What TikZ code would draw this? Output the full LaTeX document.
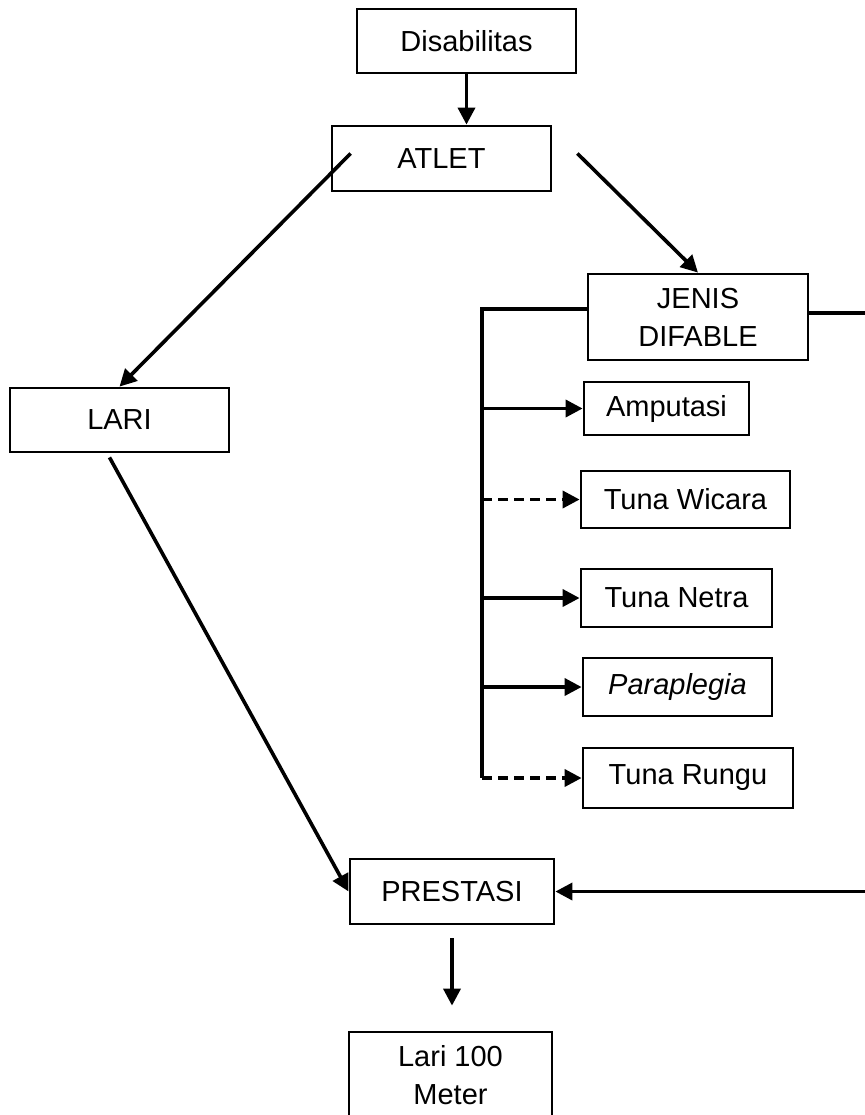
\documentclass[tikz,border=0pt]{standalone}
\usepackage{fontspec}
\setmainfont{Liberation Sans}
\usetikzlibrary{arrows.meta}

\begin{document}
\begin{tikzpicture}[x=0.5pt, y=-0.5pt, every node/.style={draw, line width=1.4pt, inner sep=2pt, align=center, font=\fontsize{14.5}{19}\selectfont}, conn/.style={line width=1.8pt}, arr/.style={conn, -{Triangle[length=8.5pt, width=8.5pt]}}, dsh/.style={arr, dash pattern=on 5pt off 3pt}]
	\useasboundingbox (0,0) rectangle (864,1115);
	\node[minimum width=109.5pt, minimum height=32pt] (dis) at (466.5,41) {Disabilitas};
	\node[minimum width=109.5pt, minimum height=32.5pt] (atlet) at (441.5,158.5) {ATLET};
	\node[minimum width=110pt, minimum height=43pt] (jenis) at (698,317) {JENIS\\DIFABLE};
	\node[minimum width=82.5pt, minimum height=26.5pt] (amp) at (666.5,408.5) {Amputasi};
	\node[minimum width=104.5pt, minimum height=28.5pt] (wic) at (685.5,499.5) {Tuna Wicara};
	\node[minimum width=95.5pt, minimum height=29pt] (net) at (676.5,598) {Tuna Netra};
	\node[minimum width=94.5pt, minimum height=29pt] (para) at (677.5,687) {\textit{Paraplegia}};
	\node[minimum width=105pt, minimum height=30pt] (rung) at (688,778) {Tuna Rungu};
	\node[minimum width=109.5pt, minimum height=32pt] (lari) at (119.5,420) {LARI};
	\node[minimum width=102pt, minimum height=32.5pt] (pres) at (452,891.5) {PRESTASI};
	\node[minimum width=101.5pt, minimum height=43pt] (meter) at (450.5,1075) {Lari 100\\Meter};
	\coordinate (bus) at (482,309);
	\coordinate (edge) at (872,313);
	\draw[arr] (dis.south) -- (dis.south |- atlet.north);
	\draw[arr] ([shift={(20,-5)}]atlet.west) -- (lari.north);
	\draw[arr] ([shift={(25,-5)}]atlet.east) -- (jenis.north);
	\draw[conn] (jenis.west |- bus) -- (bus) -- (bus |- rung.west);
	\draw[arr] (bus |- amp.west) -- (amp.west);
	\draw[dsh] (bus |- wic.west) -- (wic.west);
	\draw[arr] (bus |- net.west) -- (net.west);
	\draw[arr] (bus |- para.west) -- (para.west);
	\draw[dsh] (bus |- rung.west) -- (rung.west);
	\draw[arr] (jenis.east |- edge) -- (edge) -- (edge |- pres.east) -- (pres.east);
	\draw[arr] ([shift={(-10,4)}]lari.south) -- (pres.west);
	\draw[arr] ([shift={(0,13)}]pres.south) -- ([shift={(0,-25)}]pres.south |- meter.north);
\end{tikzpicture}
\end{document}
